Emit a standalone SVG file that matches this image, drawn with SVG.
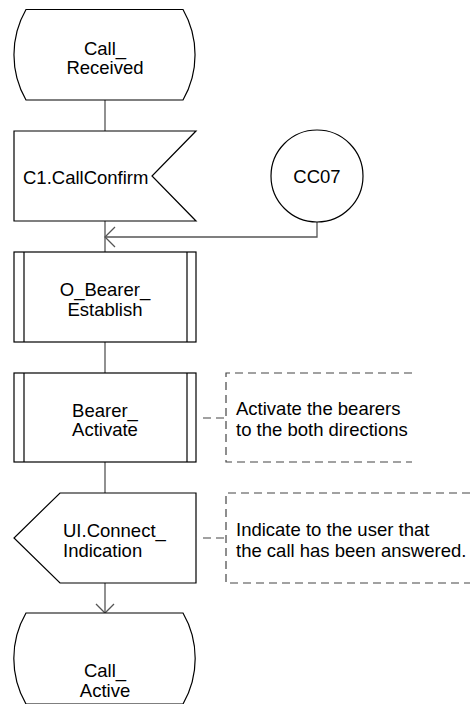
<svg xmlns="http://www.w3.org/2000/svg" width="470" height="704" viewBox="0 0 470 704">
<style>
.s{fill:#fff;stroke:#000;stroke-width:1.2}
.t{font-family:"Liberation Sans",Arial,sans-serif;font-size:18.5px;fill:#000}
.c{text-anchor:middle}
.ln{fill:none;stroke:#555;stroke-width:1.3}
.d{fill:none;stroke:#444;stroke-width:1.2;stroke-dasharray:8,5}
</style>
<g id="connectors">
<line class="ln" x1="105" y1="100" x2="105" y2="131"/>
<line class="ln" x1="105" y1="221" x2="105" y2="252"/>
<polyline class="ln" points="317,222 317,237 105,237"/>
<polyline class="ln" points="115,227 105,237 115,247"/>
<line class="ln" x1="105" y1="342" x2="105" y2="373"/>
<line class="ln" x1="105" y1="462" x2="105" y2="493"/>
<line class="ln" x1="105" y1="583" x2="105" y2="613"/>
<polyline class="ln" points="96,604 105,613 114,604"/>
</g>
<g id="call_received">
<path class="s" d="M26,9.5 H183 A91 91 0 0 1 183,100 H26 A91 91 0 0 1 26,9.5 Z"/>
<text class="t c" x="105" y="55">Call_</text>
<text class="t c" x="105" y="74">Received</text>
</g>
<g id="c1_callconfirm">
<polygon class="s" points="14,131 196,131 152,176 196,221 14,221"/>
<text class="t" x="23" y="184">C1.CallConfirm</text>
</g>
<g id="cc07">
<circle class="s" cx="317" cy="176" r="46"/>
<text class="t c" x="317" y="183">CC07</text>
</g>
<g id="o_bearer_establish">
<rect class="s" x="14" y="252" width="182" height="90"/>
<line class="s" x1="24" y1="252" x2="24" y2="342"/>
<line class="s" x1="187" y1="252" x2="187" y2="342"/>
<text class="t c" x="105" y="296">O_Bearer_</text>
<text class="t c" x="105" y="316">Establish</text>
</g>
<g id="bearer_activate">
<rect class="s" x="14" y="373" width="182" height="89"/>
<line class="s" x1="24" y1="373" x2="24" y2="462"/>
<line class="s" x1="187" y1="373" x2="187" y2="462"/>
<text class="t c" x="105" y="417">Bearer_</text>
<text class="t c" x="105" y="436">Activate</text>
</g>
<g id="comment1">
<polyline class="d" points="203,418 226,418"/>
<polyline class="d" points="412,373 226,373 226,462 412,462"/>
<text class="t" x="236" y="415">Activate the bearers</text>
<text class="t" x="236" y="436">to the both directions</text>
</g>
<g id="ui_connect_indication">
<polygon class="s" points="60,493 196,493 196,583 60,583 14,538"/>
<text class="t" x="63" y="537">UI.Connect_</text>
<text class="t" x="63" y="557">Indication</text>
</g>
<g id="comment2">
<polyline class="d" points="203,538 226,538"/>
<polyline class="d" points="470,493 226,493 226,583 470,583"/>
<text class="t" x="236" y="536">Indicate to the user that</text>
<text class="t" x="236" y="557">the call has been answered.</text>
</g>
<g id="call_active">
<path class="s" d="M26,613 H183 A91 91 0 0 1 183,704 H26 A91 91 0 0 1 26,613 Z"/>
<text class="t c" x="105" y="677">Call_</text>
<text class="t c" x="105" y="697">Active</text>
</g>
</svg>
